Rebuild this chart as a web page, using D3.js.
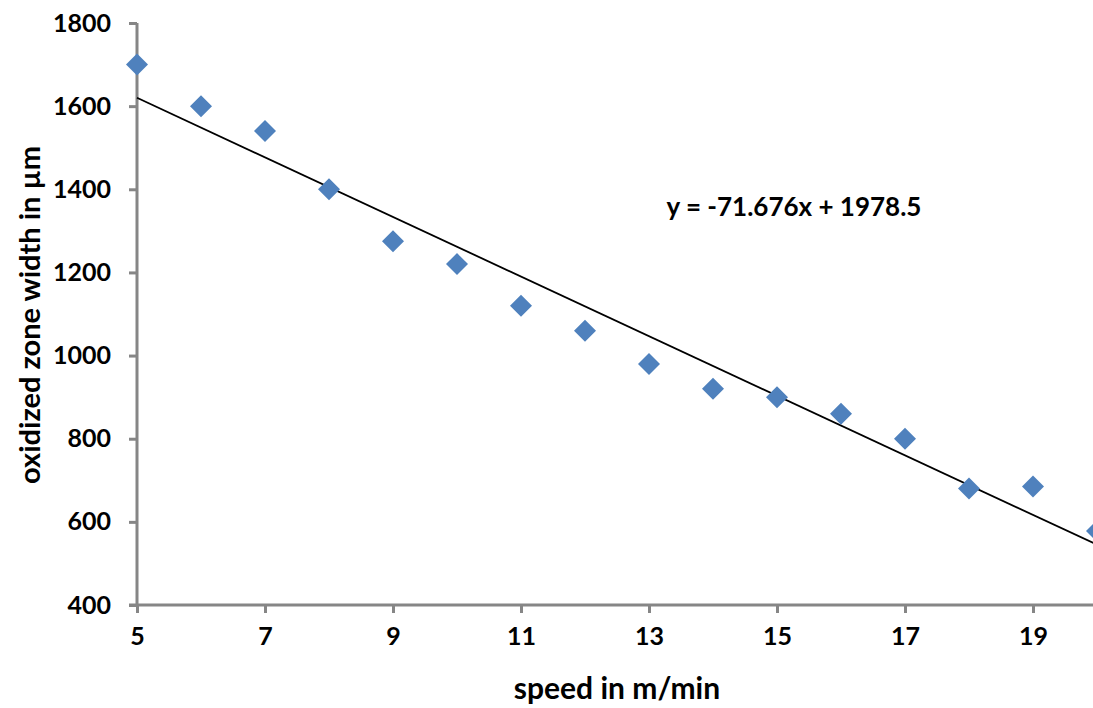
<!DOCTYPE html>
<html>
<head>
<meta charset="utf-8">
<script src="https://cdn.jsdelivr.net/npm/d3@7"></script>
<style>
  body { margin: 0; background: #fff; }
  svg { display: block; font-family: Lato, "Open Sans", sans-serif; font-weight: bold; }
</style>
</head>
<body>
<svg id="chart"></svg>
<script>
const speeds = [5, 6, 7, 8, 9, 10, 11, 12, 13, 14, 15, 16, 17, 18, 19, 20];
const widths = [1700, 1600, 1540, 1400, 1275, 1220, 1120, 1060, 980, 920, 900, 860, 800, 680, 685, 578];
const xTicks = [5, 7, 9, 11, 13, 15, 17, 19];
const yTicks = [400, 600, 800, 1000, 1200, 1400, 1600, 1800];
const slope = -71.676, intercept = 1978.5;

const width = 1093, height = 708;
const svg = d3.select("#chart").attr("width", width).attr("height", height);

const x = d3.scaleLinear().domain([5, 20]).range([137, 1097]);
const y = d3.scaleLinear().domain([400, 1800]).range([605, 23]);
const axisColor = "#868686";

// y axis
const yAxis = svg.append("g")
    .attr("transform", `translate(${x(5)},0)`)
    .call(d3.axisLeft(y).tickValues(yTicks).tickFormat(d3.format("d")).tickSize(8).tickPadding(18));
yAxis.select(".domain").attr("stroke", axisColor).attr("stroke-width", 3)
    .attr("d", `M0,${y(1800)}V${y(400)}`);
yAxis.selectAll(".tick line").attr("stroke", axisColor).attr("stroke-width", 3);
yAxis.selectAll(".tick text").attr("fill", "#000").style("font-size", "25px")
    .style("font-family", "Lato, sans-serif").style("font-weight", "bold");

// x axis
const xAxis = svg.append("g")
    .attr("transform", `translate(0,${y(400)})`)
    .call(d3.axisBottom(x).tickValues(xTicks).tickSize(8).tickPadding(14));
xAxis.select(".domain").attr("stroke", axisColor).attr("stroke-width", 3)
    .attr("d", `M${x(5) - 8},0H${width}`);
xAxis.selectAll(".tick line").attr("stroke", axisColor).attr("stroke-width", 3);
xAxis.selectAll(".tick text").attr("fill", "#000").style("font-size", "25px")
    .style("font-family", "Lato, sans-serif").style("font-weight", "bold");

// trendline
svg.append("line")
    .attr("x1", x(5)).attr("y1", y(slope * 5 + intercept))
    .attr("x2", x(20)).attr("y2", y(slope * 20 + intercept))
    .attr("stroke", "#000").attr("stroke-width", 1.8);

// markers
const s = 11;
svg.selectAll(".pt")
    .data(speeds.map((d, i) => ({ sp: d, w: widths[i] })))
    .enter()
    .append("path")
    .attr("class", "pt")
    .attr("d", d => `M${x(d.sp)},${y(d.w) - s}L${x(d.sp) + s},${y(d.w)}L${x(d.sp)},${y(d.w) + s}L${x(d.sp) - s},${y(d.w)}Z`)
    .attr("fill", "#4F81BD");

// equation
svg.append("text")
    .attr("x", 794).attr("y", 216)
    .attr("text-anchor", "middle")
    .style("font-size", "26px")
    .text("y = -71.676x + 1978.5");

// axis titles
svg.append("text")
    .attr("x", 617).attr("y", 699)
    .attr("text-anchor", "middle")
    .style("font-size", "30px")
    .text("speed in m/min");

svg.append("text")
    .attr("transform", `translate(40,${315}) rotate(-90)`)
    .attr("text-anchor", "middle")
    .style("font-size", "29px")
    .text("oxidized zone width in µm");
</script>
</body>
</html>
